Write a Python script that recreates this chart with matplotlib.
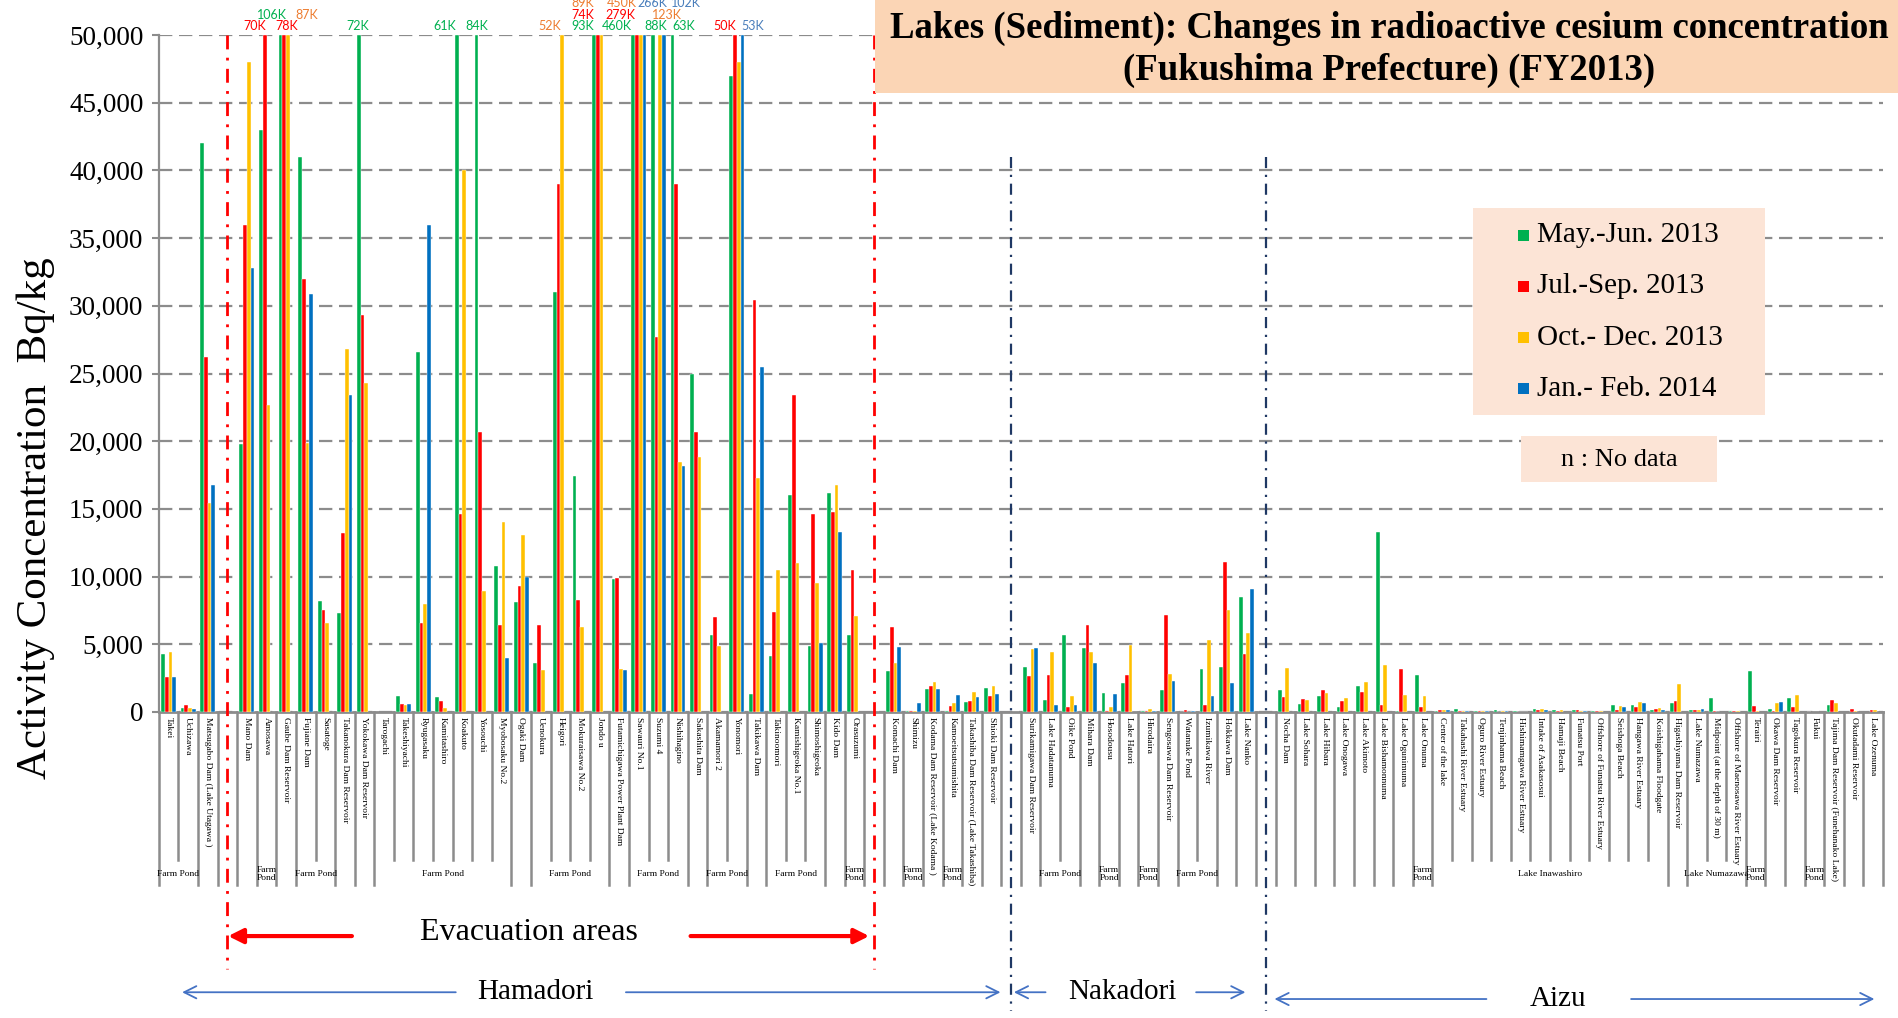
import matplotlib.pyplot as plt
import numpy as np
from matplotlib.patches import Rectangle
from matplotlib.transforms import blended_transform_factory

nan = np.nan

# '' = empty slot where a region divider sits
sites = [
    'Takei', 'Uchizawa', 'Matsugabo Dam (Lake Utagawa )', '',
    'Mano Dam', 'Amosawa', 'Gaube Dam Reservoir', 'Fujiane Dam', 'Sasatoge',
    'Takanokura Dam Reservoir', 'Yokokawa Dam Reservoir', 'Tarogachi', 'Takeshiyachi',
    'Ryugasaku', 'Kamitashiro', 'Koakuto', 'Yosouchi', 'Myobosaku No.2', 'Ogaki Dam',
    'Uenokura', 'Heigori', 'Mokuraisawa No.2', 'Jondo u', 'Futamichigawa Power Plant Dam',
    'Sawauri No.1', 'Suzumi 4', 'Nishihagino', 'Sakashita Dam', 'Akamamori 2', 'Yonomori',
    'Takikawa Dam', 'Takinoomori', 'Kamishigeoka No.1', 'Shimoshigeoka', 'Kido Dam',
    'Orasuzumi', '',
    'Komachi Dam', 'Shimizu', 'Kodama Dam Reservoir (Lake Kodama )', 'Kamoeitsutsumishita',
    'Takashiba Dam Reservoir (Lake Takashiba)', 'Shioki Dam Reservoir', '',
    'Surikamigawa Dam Reservoir', 'Lake Hadatanuma', 'Oike Pond', 'Mihara Dam', 'Hosodousu',
    'Lake Hatori', 'Hirodaira', 'Sengosawa Dam Reservoir', 'Watanuke Pond',
    'Izumikawa River', 'Hokkawa Dam', 'Lake Nanko', '',
    'Nocha Dam', 'Lake Sohara', 'Lake Hibara', 'Lake Onogawa', 'Lake Akimoto',
    'Lake Bishamonnuma', 'Lake Ogunimuma', 'Lake Onuma', 'Center of the lake',
    'Takahashi River Estuary', 'Oguro River Estuary', 'Tenjinhama Beach',
    'Hishimamgawa River Estuary', 'Intake of Asakasosui', 'Hamaji Beach', 'Funatsu Port',
    'Offshore of Funatsu River Estuary', 'Seishoga Beach', 'Hangawa River Estuary',
    'Koishigahama Floodgate', 'Higashiyama Dam Reservoir', 'Lake Numazawa',
    'Midpoint (at the depth of 30 m)', 'Offshore of Maenosawa River Estuary', 'Terairi',
    'Okawa Dam Reservoir', 'Tagokura Reservoir', 'Fukui',
    'Tajima Dam Reservoir (Funehanako Lake)', 'Okutadami Reservoir', 'Lake Ozenuma',
]

may_jun = [
    4300, 300, 42000, nan,
    19800, 43000, 106000, 41000, 8200, 7300, 72000, nan, 1200, 26600, 1100, 61000, 84000,
    10800, 8100, 3600, 31000, 17400, 93000, 9800, 460000, 88000, 63000, 25000, 5700, 47000,
    1300, 4100, 16000, 4900, 16200, 5700, nan,
    3000, 50, 1700, 100, 750, 1750, nan,
    3350, 850, 5650, 4750, 1400, 2150, 50, 1650, 20, 3150, 3350, 8500, nan,
    1600, 600, 1150, 400, 1950, 13300, 100, 2700, 100, 250, 50, 150, 50, 200, 120, 120,
    50, 550, 500, 170, 650, 120, 1000, 70, 3050, 250, 1000, 30, 550, nan, nan,
]
jul_sep = [
    2600, 500, 26200, nan,
    36000, 70000, 78000, 32000, 7500, 13200, 29300, nan, 600, 6600, 800, 14600, 20700,
    6400, 9300, 6400, 39000, 8300, 74000, 9900, 279000, 27700, 39000, 20700, 7000, 50000,
    30400, 7400, 23400, 14600, 14800, 10500, nan,
    6300, 50, 1950, 450, 800, 1150, nan,
    2650, 2700, 400, 6450, 50, 2700, 70, 7200, 150, 500, 11050, 4250, nan,
    1100, 950, 1650, 800, 1500, 500, 3200, 400, 150, 70, 100, 30, 20, 170, 70, 120,
    50, 150, 400, 200, 800, 120, 50, 70, 450, 50, 350, nan, 900, 200, 120,
]
oct_dec = [
    4400, 300, 15400, nan,
    48000, 22700, 87000, 19900, 6600, 26800, 24300, nan, 500, 8000, 300, 40000, 8900,
    14000, 13100, 3100, 52000, 6300, 89000, 3200, 450000, 123000, 18500, 18800, 4900, 48000,
    17300, 10500, 11000, 9500, 16800, 7100, nan,
    3600, 50, 2250, 650, 1500, 1900, nan,
    4650, 4400, 1150, 4400, 400, 4950, 250, 2800, 20, 5300, 7550, 5850, nan,
    3250, 850, 1400, 1000, 2250, 3500, 1250, 1150, 150, 70, 70, 100, 20, 200, 170, 70,
    50, 450, 750, 270, 2050, 120, 20, 50, 50, 650, 1250, nan, 650, 70, 170,
]
jan_feb = [
    2600, 200, 16800, nan,
    32800, nan, nan, 30900, nan, 23400, nan, nan, 600, 36000, nan, nan, nan,
    4000, 10000, nan, nan, nan, nan, 3100, 266000, 102000, 18200, nan, nan, 53000,
    25500, nan, nan, 5100, 13300, nan, nan,
    4800, 700, 1700, 1250, 1100, 1300, nan,
    4750, 550, 550, 3600, 1350, nan, 100, 2300, 70, 1150, 2150, 9050, nan,
    nan, nan, nan, nan, nan, nan, nan, nan, 150, 70, 50, 50, 20, 120, nan, 100,
    nan, 400, 650, 120, nan, 200, nan, nan, nan, 750, nan, nan, nan, nan, nan,
]

series_names = ['May.-Jun. 2013', 'Jul.-Sep. 2013', 'Oct.- Dec. 2013', 'Jan.- Feb. 2014']
bar_colors = ['#00B050', '#FF0000', '#FFC000', '#0070C0']
over_colors = ['#00B050', '#FF0000', '#ED7D31', '#4A7EBB']

# second level of the category axis (first, last, label)
group_spans = [
    (0, 1, 'Farm Pond'), (5, 5, 'Farm\nPond'), (7, 8, 'Farm Pond'), (11, 17, 'Farm Pond'),
    (19, 22, 'Farm Pond'), (24, 26, 'Farm Pond'), (28, 29, 'Farm Pond'), (31, 33, 'Farm Pond'),
    (35, 35, 'Farm\nPond'), (38, 38, 'Farm\nPond'), (40, 40, 'Farm\nPond'),
    (45, 46, 'Farm Pond'), (48, 48, 'Farm\nPond'), (50, 50, 'Farm\nPond'),
    (52, 53, 'Farm Pond'), (64, 64, 'Farm\nPond'), (65, 76, 'Lake Inawashiro'),
    (78, 80, 'Lake Numazawa'), (81, 81, 'Farm\nPond'), (84, 84, 'Farm\nPond'),
]

# placement of the labels for values above the axis top: (site, series) -> (dx, row)
over_layout = {
    (5, 1): (-0.5, 0), (6, 0): (-0.43, 1), (6, 1): (0.15, 0), (6, 2): (0.97, 1),
    (10, 0): (-0.05, 0), (15, 0): (-0.6, 0), (16, 0): (0.03, 0), (20, 2): (-0.62, 0),
    (22, 0): (-0.57, 0), (22, 1): (-0.76, 1), (22, 2): (-0.95, 2),
    (24, 0): (-0.82, 0), (24, 1): (-0.87, 1), (24, 2): (-0.96, 2), (24, 3): (0.39, 2),
    (25, 0): (0.17, 0), (25, 2): (0.35, 1), (25, 3): (1.12, 2), (26, 0): (0.6, 0),
    (29, 1): (-0.5, 0), (29, 3): (0.55, 0),
}
over_rows = [1.0133, 1.0295, 1.0468]

plt.rcParams['font.family'] = ['Liberation Serif', 'DejaVu Serif']

fig = plt.figure(figsize=(18.99, 10.18), dpi=100)
ax = fig.add_axes([0.0836, 0.3006, 0.908, 0.665])

ymax = 50000
n = len(sites)
bw = 0.19
series = [may_jun, jul_sep, oct_dec, jan_feb]
for k, vals in enumerate(series):
    vals = np.array(vals, dtype=float)
    x = np.arange(n) + 0.5 + (k - 1.5) * bw
    ax.bar(x, np.minimum(vals, ymax), width=bw, color=bar_colors[k],
           edgecolor='white', linewidth=0.3, zorder=3)

ax.set_xlim(0, n)
ax.set_ylim(0, ymax)
ax.set_xticks([])
ax.set_yticks(np.arange(0, ymax + 1, 5000))
ax.set_yticklabels([f'{v:,}' for v in range(0, ymax + 1, 5000)], fontsize=19.5)
ax.tick_params(axis='y', length=5, color='#8c8c8c', width=1.5, pad=6)
ax.yaxis.grid(True, color='#8c8c8c', lw=1.6, ls=(0, (6, 3)))
ax.set_axisbelow(True)
for s in ['top', 'right']:
    ax.spines[s].set_visible(False)
ax.spines['left'].set_color('#8c8c8c')
ax.spines['left'].set_linewidth(1.6)
ax.spines['bottom'].set_color('#8c8c8c')
ax.spines['bottom'].set_linewidth(2)

trans = blended_transform_factory(ax.transData, ax.transAxes)

# labels for clipped bars
for (i, k), (dx, row) in over_layout.items():
    v = series[k][i]
    ax.text(i + 0.5 + (k - 1.5) * bw + dx, over_rows[row], f'{v / 1000:.0f}K',
            transform=trans, ha='center', va='center', fontsize=9,
            family='Lato', color=over_colors[k], clip_on=False)

# category separators and labels
for b in range(n + 1):
    inside = any(s < b <= e for s, e, _ in group_spans)
    ax.plot([b, b], [0, -0.219 if inside else -0.2555], transform=trans,
            color='#8c8c8c', lw=1.8, clip_on=False)
for i, name in enumerate(sites):
    ax.text(i + 0.5, -0.008, name, transform=trans, rotation=-90,
            ha='center', va='top', fontsize=6.8)
for s, e, lab in group_spans:
    ax.text((s + e + 1) / 2, -0.239, lab, transform=trans, ha='center',
            va='center', fontsize=6.8, linespacing=1.0)

# region dividers
gaps = [i for i, name in enumerate(sites) if name == '']
for g in gaps[:2]:
    ax.plot([g + 0.5, g + 0.5], [1.0, -0.38], transform=trans, color='red',
            lw=2, ls=(0, (5, 3, 1, 3)), clip_on=False, zorder=4)
for g in gaps[2:]:
    ax.plot([g + 0.5, g + 0.5], [0.82, -0.442], transform=trans, color='#1F3864',
            lw=1.6, ls=(0, (5, 3, 1, 3)), clip_on=False, zorder=4)

red_arrow = dict(arrowstyle='-|>', color='red', lw=3, mutation_scale=22)
ax.annotate('', xy=(3.4, -0.331), xytext=(10.0, -0.331), xycoords=trans,
            arrowprops=red_arrow, annotation_clip=False)
ax.annotate('', xy=(36.4, -0.331), xytext=(27.0, -0.331), xycoords=trans,
            arrowprops=red_arrow, annotation_clip=False)
ax.text(18.9, -0.326, 'Evacuation areas', transform=trans, ha='center', va='center', fontsize=23)

blue_arrow = dict(arrowstyle='->', color='#4472C4', lw=1.3, mutation_scale=22)
regions = [
    ('Hamadori', 19.2, -0.414, (15.3, 1.05), (23.7, 43.1)),
    ('Nakadori', 49.2, -0.414, (45.4, 43.5), (52.8, 55.6)),
    ('Aizu', 71.4, -0.424, (67.9, 56.8), (75.0, 87.7)),
]
for name, xc, yc, left, right in regions:
    ax.text(xc, yc, name, transform=trans, ha='center', va='center', fontsize=21)
    for x0, x1 in (left, right):
        ax.annotate('', xy=(x1, yc), xytext=(x0, yc), xycoords=trans,
                    arrowprops=blue_arrow, annotation_clip=False)

fig.text(0.019, 0.491, 'Activity Concentration  Bq/kg', rotation=90,
         ha='center', va='center', fontsize=31)

# title box
fig.patches.append(Rectangle((0.4608, 0.9086), 0.5392, 0.0914, transform=fig.transFigure,
                             facecolor='#FBD5B5', edgecolor='none', zorder=5))
fig.text(0.7315, 0.9725, 'Lakes (Sediment): Changes in radioactive cesium concentration',
         ha='center', va='center', fontsize=26.5, weight='bold', zorder=6)
fig.text(0.7315, 0.9305, '(Fukushima Prefecture) (FY2013)',
         ha='center', va='center', fontsize=26.5, weight='bold', zorder=6)

# legend box
fig.patches.append(Rectangle((0.7757, 0.5923), 0.1538, 0.2034, transform=fig.transFigure,
                             facecolor='#FCE4D6', edgecolor='none', zorder=5))
leg_y = [0.769, 0.719, 0.668, 0.618]
for k, name in enumerate(series_names):
    fig.patches.append(Rectangle((0.7992, leg_y[k] - 0.0054), 0.0058, 0.0108,
                                 transform=fig.transFigure, facecolor=bar_colors[k],
                                 edgecolor='none', zorder=6))
    fig.text(0.8095, leg_y[k], name, ha='left', va='center', fontsize=21, zorder=6)

fig.patches.append(Rectangle((0.801, 0.5265), 0.103, 0.0452, transform=fig.transFigure,
                             facecolor='#FCE4D6', edgecolor='none', zorder=5))
fig.text(0.8526, 0.548, 'n : No data', ha='center', va='center', fontsize=19, zorder=6)

fig.savefig('out.png', dpi=100, facecolor='white')
